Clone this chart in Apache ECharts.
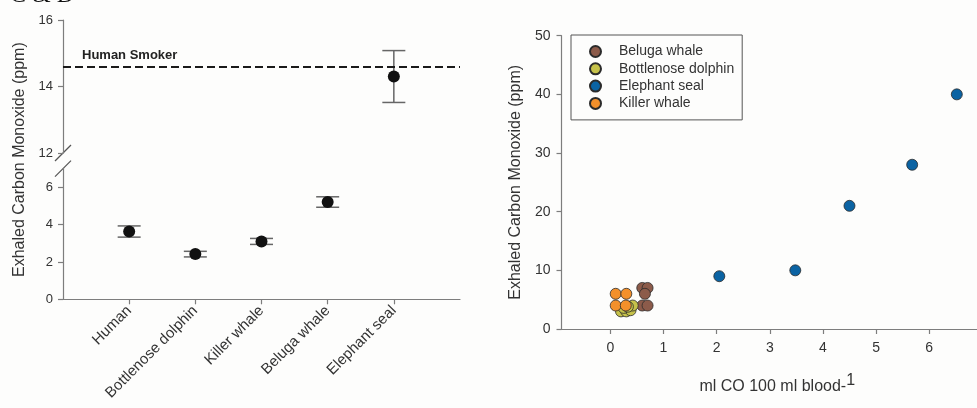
<!DOCTYPE html>
<html><head><meta charset="utf-8">
<script src="https://cdn.jsdelivr.net/npm/echarts@6/dist/echarts.min.js"></script>
<style>html,body{margin:0;padding:0;background:#fdfdfc}#c{width:977px;height:408px}</style>
</head><body><div id="c"></div>
<script>
// Panel C: exhaled CO per species (mean ± error), with a broken y axis
const species = ['Human', 'Bottlenose dolphin', 'Killer whale', 'Beluga whale', 'Elephant seal'];
const meanCO = [3.63, 2.42, 3.10, 5.21, 14.30];
const errCO = [0.30, 0.15, 0.16, 0.28, 0.78];
const smokerCO = 14.6;
const upperTicks = [12, 14, 16];
const lowerTicks = [0, 2, 4, 6];
const speciesTicks = [1, 2, 3, 4, 5];

// Panel D: exhaled CO against blood CO content
const belugaPts = [[0.6, 7], [0.7, 7], [0.65, 6], [0.6, 4], [0.7, 4]];
const dolphinPts = [[0.2, 3], [0.3, 3], [0.38, 3.2], [0.42, 4], [0.25, 3.6], [0.33, 3.8]];
const sealPts = [[2.05, 9], [3.48, 10], [4.5, 21], [5.68, 28], [6.52, 40]];
const orcaPts = [[0.1, 6], [0.3, 6], [0.1, 4], [0.29, 4]];
const bloodTicks = [0, 1, 2, 3, 4, 5, 6];

const FONT = '"Liberation Sans", Arial, sans-serif';
const AXIS_COLOR = '#7d7d7d';
const TEXT_COLOR = '#333';
const BREAK_AT = 7;   // lower segment runs 0..7, upper segment 12..16

const lowerPts = [], upperPts = [], lowerErr = [], upperErr = [];
species.forEach((s, i) => {
  const p = [i + 1, meanCO[i]];
  const e = [i + 1, meanCO[i] - errCO[i], meanCO[i] + errCO[i]];
  if (meanCO[i] < BREAK_AT) { lowerPts.push(p); lowerErr.push(e); }
  else { upperPts.push(p); upperErr.push(e); }
});

function errorBar(params, api) {
  const x = api.value(0);
  const top = api.coord([x, api.value(2)]);
  const bot = api.coord([x, api.value(1)]);
  const half = 11.5;
  const style = { stroke: '#666', lineWidth: 1.5 };
  return {
    type: 'group',
    children: [
      { type: 'line', shape: { x1: top[0], y1: top[1], x2: bot[0], y2: bot[1] }, style },
      { type: 'line', shape: { x1: top[0] - half, y1: top[1], x2: top[0] + half, y2: top[1] }, style },
      { type: 'line', shape: { x1: bot[0] - half, y1: bot[1], x2: bot[0] + half, y2: bot[1] }, style }
    ]
  };
}

const axisLine = { show: true, onZero: false, lineStyle: { color: AXIS_COLOR, width: 1.2 } };
const tick = (vals) => ({ show: true, length: 5, lineStyle: { color: AXIS_COLOR, width: 1.2 }, customValues: vals });
const lbl = (vals, extra) => Object.assign({ customValues: vals, color: TEXT_COLOR, fontFamily: FONT, fontSize: 14 }, extra || {});

const chart = echarts.init(document.getElementById('c'), null, { renderer: 'canvas' });

const option = {
  backgroundColor: '#fdfdfc',
  animation: false,
  grid: [
    { left: 63, top: 20, width: 397, height: 133 },
    { left: 63, top: 168.6, width: 397, height: 130.7 },
    { left: 561.5, top: 35.7, right: 0, height: 293.3 }
  ],
  xAxis: [
    { gridIndex: 0, type: 'value', min: 0, max: 6, show: false },
    {
      gridIndex: 1, type: 'value', min: 0, max: 6,
      axisLine, axisTick: tick(speciesTicks), splitLine: { show: false },
      axisLabel: lbl(speciesTicks, { rotate: 45, margin: 9, fontSize: 15, formatter: v => species[v - 1] || '' })
    },
    {
      gridIndex: 2, type: 'value', min: -0.92, max: 6.9,
      axisLine, axisTick: tick(bloodTicks), splitLine: { show: false },
      axisLabel: lbl(bloodTicks, { margin: 12 }),
      name: '{t|ml CO 100 ml blood-}{s|1}', nameLocation: 'middle', nameGap: 44,
      nameTextStyle: {
        padding: [0, 0, 0, 16],
        rich: {
          t: { fontFamily: FONT, fontSize: 16, color: TEXT_COLOR },
          s: { fontFamily: FONT, fontSize: 16, color: TEXT_COLOR, padding: [0, 0, 12, 0] }
        }
      }
    }
  ],
  yAxis: [
    {
      gridIndex: 0, type: 'value', min: 12, max: 16,
      axisLine, axisTick: tick(upperTicks), splitLine: { show: false },
      axisLabel: lbl(upperTicks, { margin: 10, fontSize: 13 })
    },
    {
      gridIndex: 1, type: 'value', min: 0, max: 7,
      axisLine, axisTick: tick(lowerTicks), splitLine: { show: false },
      axisLabel: lbl(lowerTicks, { margin: 10, fontSize: 13 })
    },
    {
      gridIndex: 2, type: 'value', min: 0, max: 50, interval: 10,
      axisLine, axisTick: { show: true, length: 5, lineStyle: { color: AXIS_COLOR, width: 1.2 } },
      splitLine: { show: false },
      axisLabel: { color: TEXT_COLOR, fontFamily: FONT, fontSize: 14, margin: 11 },
      name: 'Exhaled Carbon Monoxide (ppm)', nameLocation: 'middle', nameGap: 38,
      nameTextStyle: { fontFamily: FONT, fontSize: 16, color: TEXT_COLOR }
    }
  ],
  legend: {
    orient: 'vertical', left: 571, top: 35,
    padding: [8, 8, 8, 18], itemGap: 0.3, itemWidth: 11, itemHeight: 11,
    borderColor: '#555', borderWidth: 1, borderRadius: 0,
    icon: 'circle',
    textStyle: { fontFamily: FONT, fontSize: 14, lineHeight: 17, color: TEXT_COLOR, padding: [0, 0, 0, 13] },
    data: ['Beluga whale', 'Bottlenose dolphin', 'Elephant seal', 'Killer whale']
  },
  series: [
    { type: 'custom', xAxisIndex: 0, yAxisIndex: 0, renderItem: errorBar, data: upperErr, z: 2 },
    { type: 'custom', xAxisIndex: 1, yAxisIndex: 1, renderItem: errorBar, data: lowerErr, z: 2 },
    {
      type: 'scatter', xAxisIndex: 0, yAxisIndex: 0, data: upperPts, symbolSize: 12, z: 3,
      itemStyle: { color: '#111', opacity: 1 },
      markLine: {
        silent: true, symbol: 'none',
        lineStyle: { color: '#1a1a1a', width: 2, type: [8, 4] },
        label: {
          show: true, position: 'insideStartTop', formatter: 'Human Smoker',
          fontFamily: FONT, fontSize: 13, fontWeight: 'bold', color: '#222',
          padding: [0, 0, 0, 14]
        },
        data: [{ yAxis: smokerCO }]
      }
    },
    {
      type: 'scatter', xAxisIndex: 1, yAxisIndex: 1, data: lowerPts, symbolSize: 12, z: 3,
      itemStyle: { color: '#111', opacity: 1 }
    },
    {
      name: 'Beluga whale', type: 'scatter', xAxisIndex: 2, yAxisIndex: 2, data: belugaPts, symbolSize: 11,
      itemStyle: { color: '#8c5b4a', borderColor: '#2b2b2b', borderWidth: 0.8, opacity: 1 }
    },
    {
      name: 'Bottlenose dolphin', type: 'scatter', xAxisIndex: 2, yAxisIndex: 2, data: dolphinPts, symbolSize: 11,
      itemStyle: { color: '#c6c24a', borderColor: '#2b2b2b', borderWidth: 0.8, opacity: 1 }
    },
    {
      name: 'Elephant seal', type: 'scatter', xAxisIndex: 2, yAxisIndex: 2, data: sealPts, symbolSize: 11,
      itemStyle: { color: '#0b63a3', borderColor: '#2b2b2b', borderWidth: 0.8, opacity: 1 }
    },
    {
      name: 'Killer whale', type: 'scatter', xAxisIndex: 2, yAxisIndex: 2, data: orcaPts, symbolSize: 11,
      itemStyle: { color: '#f3902b', borderColor: '#2b2b2b', borderWidth: 0.8, opacity: 1 }
    }
  ]
};

chart.setOption(option);

// Axis-break slashes and the shared y title of panel C
const upperEnd = chart.convertToPixel({ gridIndex: 0 }, [0, 12]);
const lowerEnd = chart.convertToPixel({ gridIndex: 1 }, [0, BREAK_AT]);
const slash = (p) => ({
  type: 'line', silent: true,
  shape: { x1: p[0] - 8, y1: p[1] + 8, x2: p[0] + 8, y2: p[1] - 8 },
  style: { stroke: '#555', lineWidth: 1.2 }
});
chart.setOption({
  graphic: [
    slash(upperEnd),
    slash(lowerEnd),
    {
      type: 'text', silent: true, x: 20, y: (chart.convertToPixel({ gridIndex: 0 }, [0, 16])[1] + chart.convertToPixel({ gridIndex: 1 }, [0, 0])[1]) / 2,
      rotation: Math.PI / 2,
      style: { text: 'Exhaled Carbon Monoxide (ppm)', fontFamily: FONT, fontSize: 16, fill: TEXT_COLOR, align: 'center', verticalAlign: 'middle' }
    },
    {
      type: 'text', silent: true, x: 10, y: 8,
      style: { text: 'C & D', fontFamily: '"Liberation Serif", "Times New Roman", serif', fontSize: 24, fill: '#111', align: 'left', verticalAlign: 'bottom' }
    }
  ]
});
</script>
</body></html>
